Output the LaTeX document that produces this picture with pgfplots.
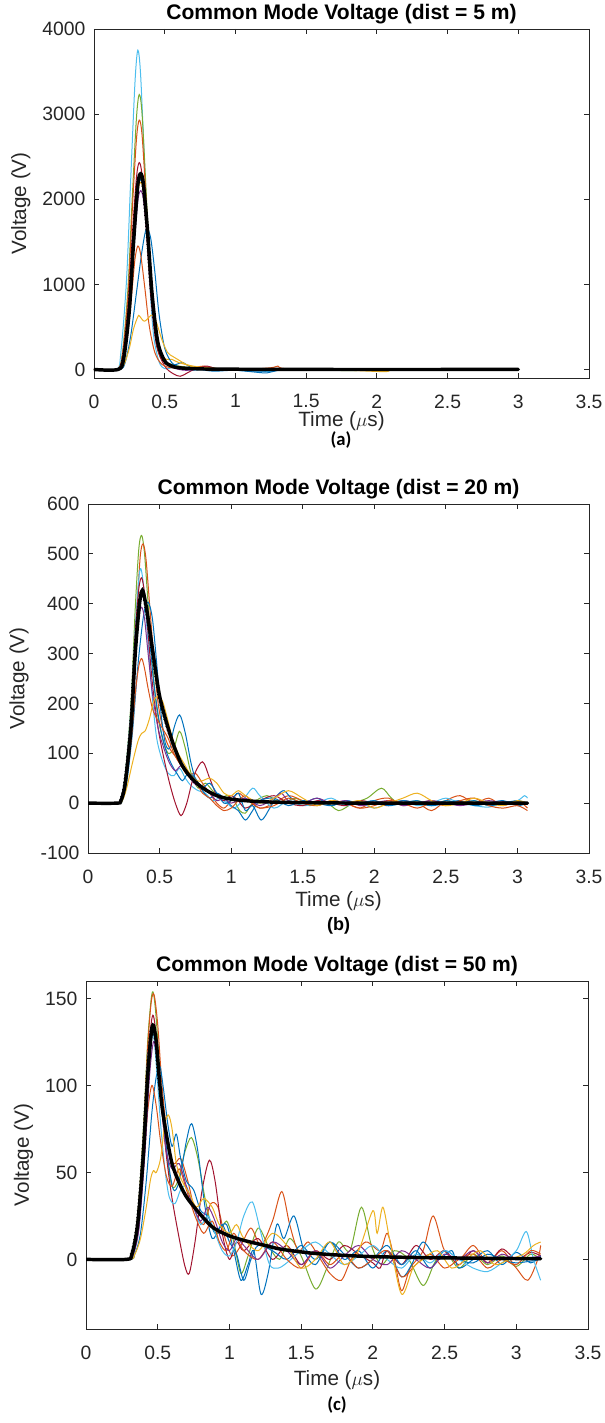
\documentclass[border=0pt]{standalone}
\usepackage{pgfplots}
\pgfplotsset{compat=1.18}
\usepackage{fontspec}
\setmainfont{Liberation Sans}
\newfontfamily\calib{Carlito}
\definecolor{mblue}{HTML}{0072BD}
\definecolor{morange}{HTML}{D95319}
\definecolor{myellow}{HTML}{EDB120}
\definecolor{mpurple}{HTML}{7E2F8E}
\definecolor{mgreen}{HTML}{77AC30}
\definecolor{mlblue}{HTML}{4DBEEE}
\definecolor{mred}{HTML}{A2142F}
\definecolor{axgray}{HTML}{262626}
\pgfplotsset{panel/.style={
  scale only axis, xmin=0, xmax=3.5,
  xtick={0,0.5,1,1.5,2,2.5,3,3.5},
  tick align=inside, major tick length=4pt,
  axis line style={axgray, line width=0.6pt},
  tick style={axgray, line width=0.6pt},
  every tick label/.append style={font=\fontsize{14.5}{15}\selectfont, text=axgray},
  xticklabel shift=9pt, yticklabel shift=3pt,
  scaled ticks=false,
  /pgf/number format/assume math mode=true,
  /pgf/number format/set thousands separator={},
  xlabel={Time ($\mu$s)}, ylabel={Voltage (V)},
  label style={font=\fontsize{15.5}{16}\selectfont, text=axgray},
  ylabel shift=2pt,
  title style={font=\fontsize{15.8}{16}\selectfont\bfseries, yshift=-6pt},
  every axis plot/.append style={line width=0.75pt, smooth, tension=0.5},
}}
\begin{document}
\begin{tikzpicture}
\useasboundingbox (0,0) rectangle (453pt,1067.25pt);
% ---------------- panel (a) ----------------
\begin{axis}[panel, at={(70.5pt,783.75pt)}, anchor=south west,
  width=371.25pt, height=261.75pt, ymin=-100, ymax=4000,
  ytick={0,1000,2000,3000,4000},
  xlabel style={at={(axis description cs:0.5,0)}, anchor=center, inner sep=0pt, yshift=-32.25pt},
  title={Common Mode Voltage (dist = 5 m)}]
\addplot[mlblue] coordinates {(0,0)(0.16,0)(0.19,200)(0.23,1050)(0.26,2250)(0.29,3380)(0.31,3750)(0.33,3450)(0.36,2300)(0.39,1150)(0.42,420)(0.46,90)(0.5,10)(0.55,20)(0.6,15)(0.7,-10)(0.8,5)(1.0,0)(1.2,-20)(1.25,-25)(1.3,0)(1.6,5)(2.0,0)(2.5,5)(3.0,0)};
\addplot[mgreen] coordinates {(0,0)(0.16,0)(0.2,180)(0.24,950)(0.27,2000)(0.3,2950)(0.32,3230)(0.34,3000)(0.37,2050)(0.4,1050)(0.44,330)(0.48,110)(0.55,60)(0.6,40)(0.7,20)(0.8,30)(0.9,5)(1.1,-10)(1.5,5)(1.8,-15)(2.0,0)(2.5,5)(3.0,0)};
\addplot[morange] coordinates {(0,0)(0.16,0)(0.2,160)(0.24,850)(0.27,1850)(0.3,2700)(0.32,2930)(0.34,2750)(0.37,1950)(0.4,1050)(0.44,350)(0.48,120)(0.55,40)(0.65,10)(0.78,40)(0.85,0)(1.0,-10)(1.25,20)(1.3,40)(1.35,10)(1.7,-5)(2.0,0)(2.5,-5)(3.0,0)};
\addplot[mred] coordinates {(0,0)(0.16,0)(0.2,140)(0.24,720)(0.27,1550)(0.3,2250)(0.32,2430)(0.34,2280)(0.37,1650)(0.4,900)(0.44,300)(0.5,40)(0.56,-50)(0.61,-80)(0.66,-40)(0.72,10)(0.8,40)(0.86,10)(0.95,-10)(1.2,10)(1.6,-5)(2.0,5)(3.0,0)};
\addplot[mblue] coordinates {(0,0)(0.17,0)(0.21,130)(0.25,700)(0.28,1500)(0.31,2120)(0.33,2230)(0.35,2100)(0.38,1600)(0.41,900)(0.45,330)(0.5,110)(0.55,50)(0.6,70)(0.63,80)(0.68,30)(0.75,0)(0.85,-20)(1.0,-10)(1.2,-40)(1.25,-30)(1.4,5)(2.0,0)(3.0,0)};
\addplot[myellow] coordinates {(0,0)(0.17,0)(0.21,120)(0.25,680)(0.28,1450)(0.31,2080)(0.33,2200)(0.35,2080)(0.38,1550)(0.41,880)(0.45,320)(0.5,130)(0.55,120)(0.6,80)(0.7,40)(0.8,20)(1.0,0)(1.5,10)(2.05,-25)(2.1,10)(2.5,0)(3.0,0)};
\addplot[mpurple] coordinates {(0,0)(0.17,0)(0.21,110)(0.25,630)(0.28,1380)(0.31,1980)(0.33,2100)(0.35,1990)(0.38,1500)(0.41,850)(0.45,300)(0.5,80)(0.56,20)(0.65,-10)(0.8,10)(1.0,0)(1.5,-5)(2.0,5)(3.0,0)};
\addplot[mblue] coordinates {(0,0)(0.18,0)(0.22,80)(0.26,400)(0.3,900)(0.34,1400)(0.37,1650)(0.4,1550)(0.43,1150)(0.46,650)(0.5,250)(0.55,80)(0.6,30)(0.7,10)(1.0,-10)(1.2,-20)(1.5,0)(3.0,0)};
\addplot[morange] coordinates {(0,0)(0.16,0)(0.2,90)(0.24,450)(0.27,950)(0.29,1300)(0.31,1450)(0.33,1350)(0.36,950)(0.39,520)(0.43,200)(0.48,60)(0.55,20)(0.7,10)(1.0,0)(3.0,0)};
\addplot[myellow] coordinates {(0,0)(0.17,0)(0.21,50)(0.25,250)(0.28,480)(0.31,620)(0.32,630)(0.35,570)(0.37,580)(0.41,640)(0.44,560)(0.48,350)(0.52,200)(0.56,150)(0.6,110)(0.65,60)(0.7,30)(0.8,10)(1.0,0)(3.0,0)};
\addplot[black, line width=2.6pt, line cap=round] coordinates {(0,0)(0.17,0)(0.21,130)(0.25,700)(0.28,1500)(0.31,2170)(0.33,2300)(0.35,2170)(0.38,1600)(0.41,900)(0.45,330)(0.5,100)(0.55,40)(0.6,20)(0.7,10)(0.8,5)(1.0,3)(1.5,0)(3.0,0)};
\addplot[black, dotted, line width=1pt] coordinates {(0,0)(0.16,0)(0.2,130)(0.24,700)(0.27,1500)(0.3,2150)(0.32,2280)(0.34,2160)(0.37,1600)(0.4,900)(0.44,330)(0.49,100)(0.55,30)(0.7,8)(1.0,2)(3.0,0)};
\end{axis}
\node[font=\calib\bfseries\fontsize{14}{15}\selectfont, inner sep=0pt] at (255.75pt,737.25pt) {(a)};
% ---------------- panel (b) ----------------
\begin{axis}[panel, at={(66pt,427.5pt)}, anchor=south west,
  width=375.75pt, height=261.75pt, ymin=-100, ymax=600,
  ytick={-100,0,100,200,300,400,500,600},
  xlabel style={at={(axis description cs:0.5,0)}, anchor=center, inner sep=0pt, yshift=-36pt},
  title={Common Mode Voltage (dist = 20 m)}]
\addplot[mgreen] coordinates {(0,0)(0.2,0)(0.23,8)(0.26,55)(0.3,200)(0.33,390)(0.355,510)(0.375,537)(0.395,500)(0.42,400)(0.45,280)(0.48,190)(0.52,130)(0.56,100)(0.6,110)(0.64,144)(0.68,110)(0.72,60)(0.77,30)(0.82,40)(0.87,25)(0.92,10)(0.97,15)(1.02,5)(1.06,-15)(1.1,-20)(1.15,0)(1.25,15)(1.35,0)(1.45,10)(1.55,-5)(1.65,5)(1.75,-15)(1.85,0)(1.95,10)(2.05,30)(2.12,10)(2.2,-5)(2.3,5)(2.4,-5)(2.5,5)(2.6,-3)(2.7,5)(2.8,-5)(2.9,0)(3.0,3)(3.07,0)};
\addplot[morange] coordinates {(0,0)(0.2,0)(0.23,7)(0.26,50)(0.3,180)(0.34,380)(0.365,495)(0.385,520)(0.405,490)(0.43,400)(0.46,290)(0.49,200)(0.53,140)(0.57,110)(0.62,90)(0.66,70)(0.7,55)(0.75,60)(0.8,40)(0.85,20)(0.9,0)(0.95,-10)(1.0,5)(1.05,20)(1.1,10)(1.2,-10)(1.3,0)(1.4,15)(1.5,5)(1.6,-5)(1.7,5)(1.8,0)(1.9,-10)(2.0,5)(2.1,10)(2.2,-5)(2.3,0)(2.4,-15)(2.5,5)(2.6,15)(2.7,0)(2.8,10)(2.9,-5)(3.0,5)(3.07,-10)};
\addplot[mlblue] coordinates {(0,0)(0.2,0)(0.23,8)(0.26,55)(0.3,190)(0.33,350)(0.355,450)(0.37,470)(0.39,430)(0.42,320)(0.45,210)(0.48,130)(0.52,85)(0.56,60)(0.6,55)(0.64,70)(0.68,50)(0.72,35)(0.77,25)(0.82,20)(0.87,5)(0.92,10)(0.97,0)(1.02,-10)(1.08,5)(1.15,30)(1.2,15)(1.3,-10)(1.4,5)(1.5,-5)(1.6,0)(1.7,10)(1.8,-5)(1.9,0)(2.0,-10)(2.1,0)(2.2,5)(2.3,-5)(2.4,0)(2.5,10)(2.6,0)(2.7,-5)(2.8,-8)(2.9,0)(3.0,5)(3.05,15)(3.07,10)};
\addplot[mred] coordinates {(0,0)(0.2,0)(0.23,7)(0.26,50)(0.3,180)(0.33,340)(0.355,430)(0.375,452)(0.395,420)(0.42,340)(0.45,240)(0.49,150)(0.53,90)(0.57,40)(0.61,0)(0.65,-25)(0.69,0)(0.74,55)(0.8,83)(0.85,50)(0.9,15)(0.95,5)(1.0,15)(1.05,5)(1.1,-10)(1.2,5)(1.3,15)(1.4,0)(1.5,-5)(1.6,5)(1.7,0)(1.8,-5)(1.9,5)(2.0,0)(2.1,-5)(2.2,5)(2.3,0)(2.4,5)(2.5,-3)(2.6,3)(2.7,0)(2.8,-3)(2.9,3)(3.07,0)};
\addplot[mblue] coordinates {(0,0)(0.21,0)(0.24,5)(0.27,40)(0.31,140)(0.35,280)(0.39,380)(0.42,403)(0.45,370)(0.48,280)(0.51,180)(0.54,120)(0.57,110)(0.6,150)(0.64,177)(0.68,140)(0.72,80)(0.76,40)(0.8,30)(0.85,40)(0.9,20)(0.95,0)(1.0,5)(1.05,20)(1.1,-15)(1.15,-5)(1.21,-34)(1.27,-10)(1.32,15)(1.37,25)(1.42,10)(1.5,0)(1.6,10)(1.7,-5)(1.8,5)(1.9,-3)(2.0,5)(2.1,-5)(2.2,0)(2.3,5)(2.4,-5)(2.5,0)(2.6,5)(2.7,-5)(2.8,0)(2.9,5)(3.0,-5)(3.07,0)};
\addplot[mblue] coordinates {(0,0)(0.2,0)(0.23,7)(0.26,45)(0.3,165)(0.33,320)(0.36,405)(0.38,420)(0.4,400)(0.43,330)(0.46,240)(0.5,160)(0.54,110)(0.58,80)(0.62,60)(0.66,45)(0.7,60)(0.75,50)(0.8,25)(0.85,10)(0.9,20)(0.95,10)(1.0,-5)(1.05,-15)(1.1,-34)(1.15,-15)(1.2,5)(1.3,10)(1.4,-5)(1.5,5)(1.6,0)(1.7,-5)(1.8,5)(1.9,0)(2.0,5)(2.1,-5)(2.2,5)(2.3,0)(2.4,-5)(2.5,5)(2.6,0)(2.7,5)(2.8,-5)(2.9,0)(3.0,5)(3.07,0)};
\addplot[mpurple] coordinates {(0,0)(0.2,0)(0.23,6)(0.26,45)(0.3,160)(0.33,300)(0.355,375)(0.375,393)(0.395,370)(0.42,300)(0.45,220)(0.49,150)(0.53,110)(0.57,80)(0.61,65)(0.65,75)(0.69,60)(0.74,40)(0.8,30)(0.85,20)(0.9,5)(0.95,10)(1.0,0)(1.1,10)(1.2,-5)(1.3,10)(1.35,20)(1.4,5)(1.5,0)(1.6,10)(1.7,0)(1.8,5)(1.9,-5)(2.0,0)(2.1,5)(2.2,-5)(2.3,0)(2.4,5)(2.5,0)(2.6,-5)(2.7,0)(2.8,5)(2.9,0)(3.0,-3)(3.07,0)};
\addplot[morange] coordinates {(0,0)(0.2,0)(0.23,5)(0.26,35)(0.3,120)(0.33,220)(0.355,275)(0.375,290)(0.395,270)(0.42,230)(0.45,190)(0.48,170)(0.52,150)(0.56,130)(0.6,100)(0.64,80)(0.68,70)(0.72,55)(0.76,40)(0.8,20)(0.85,10)(0.9,-5)(0.95,-15)(1.0,-10)(1.05,5)(1.1,15)(1.15,0)(1.2,-10)(1.3,-5)(1.4,10)(1.5,0)(1.6,-5)(1.7,5)(1.8,0)(1.9,-10)(2.0,-5)(2.1,5)(2.2,0)(2.3,-10)(2.4,0)(2.5,-5)(2.6,5)(2.7,10)(2.8,-5)(2.9,-10)(3.0,-5)(3.07,-15)};
\addplot[myellow] coordinates {(0,0)(0.21,0)(0.24,5)(0.27,30)(0.31,80)(0.35,125)(0.375,140)(0.4,145)(0.43,170)(0.46,205)(0.49,215)(0.52,205)(0.55,175)(0.59,130)(0.63,100)(0.67,80)(0.71,60)(0.76,45)(0.8,45)(0.85,50)(0.9,40)(0.95,20)(1.0,15)(1.05,25)(1.1,15)(1.2,0)(1.3,10)(1.4,25)(1.5,10)(1.6,-5)(1.7,5)(1.8,0)(1.9,5)(2.0,-10)(2.1,0)(2.2,10)(2.3,20)(2.4,5)(2.5,-5)(2.6,0)(2.7,10)(2.8,0)(2.9,-5)(3.0,5)(3.07,0)};
\addplot[black, line width=2.6pt, line cap=round] coordinates {(0,0)(0.2,0)(0.23,5)(0.26,40)(0.3,150)(0.33,300)(0.36,400)(0.38,427)(0.4,405)(0.42,370)(0.46,290)(0.5,215)(0.55,160)(0.6,115)(0.65,80)(0.7,58)(0.76,40)(0.82,27)(0.9,15)(1.0,8)(1.2,3)(1.5,1)(2.0,0)(3.07,0)};
\addplot[black, dotted, line width=1pt] coordinates {(0,0)(0.19,0)(0.22,5)(0.25,40)(0.29,150)(0.32,300)(0.35,400)(0.37,425)(0.39,405)(0.41,370)(0.45,290)(0.49,215)(0.54,160)(0.6,110)(0.7,55)(0.8,28)(1.0,8)(1.5,1)(3.07,0)};
\end{axis}
\node[font=\bfseries\fontsize{13.5}{14}\selectfont, inner sep=0pt] at (253.9pt,372.75pt) {(b)};
% ---------------- panel (c) ----------------
\begin{axis}[panel, at={(64.5pt,70.5pt)}, anchor=south west,
  width=376.5pt, height=261pt, ymin=-40, ymax=160,
  ytick={0,50,100,150},
  xlabel style={at={(axis description cs:0.5,0)}, anchor=center, inner sep=0pt, yshift=-38.25pt},
  title={Common Mode Voltage (dist = 50 m)}]
\addplot[mgreen] coordinates {(0,0)(0.28,0)(0.32,4)(0.36,25)(0.40,75)(0.43,125)(0.455,150)(0.47,153)(0.49,138)(0.52,100)(0.56,62)(0.6,42)(0.64,45)(0.69,62)(0.735,70)(0.78,58)(0.83,35)(0.88,18)(0.93,15)(0.98,22)(1.03,10)(1.08,-8)(1.13,2)(1.2,18)(1.27,8)(1.35,0)(1.42,12)(1.5,2)(1.6,-17)(1.68,-5)(1.76,10)(1.84,5)(1.92,30)(1.99,8)(2.06,-3)(2.15,5)(2.25,0)(2.35,-15)(2.43,-2)(2.5,5)(2.6,-5)(2.7,3)(2.8,-3)(2.9,2)(3.0,-4)(3.1,3)(3.17,0)};
\addplot[morange] coordinates {(0,0)(0.28,0)(0.32,4)(0.36,24)(0.40,72)(0.43,122)(0.455,148)(0.475,152)(0.5,135)(0.53,100)(0.57,68)(0.61,55)(0.66,58)(0.71,45)(0.76,28)(0.82,20)(0.87,32)(0.92,30)(0.97,12)(1.02,2)(1.08,8)(1.15,18)(1.22,8)(1.3,22)(1.365,39)(1.42,20)(1.48,5)(1.55,10)(1.62,2)(1.7,-8)(1.78,-12)(1.85,0)(1.95,10)(2.05,5)(2.1,15)(2.15,0)(2.2,-18)(2.26,-5)(2.35,5)(2.42,25)(2.5,5)(2.6,0)(2.7,8)(2.8,-2)(2.9,5)(3.0,-5)(3.08,-12)(3.15,0)(3.17,8)};
\addplot[mred] coordinates {(0,0)(0.28,0)(0.32,3)(0.36,22)(0.40,68)(0.43,115)(0.455,136)(0.47,140)(0.49,128)(0.52,95)(0.56,60)(0.6,35)(0.65,12)(0.69,-4)(0.72,-8)(0.76,10)(0.81,40)(0.86,57)(0.9,45)(0.95,15)(1.0,0)(1.05,10)(1.1,5)(1.2,12)(1.3,0)(1.4,8)(1.5,-3)(1.6,5)(1.7,0)(1.8,8)(1.9,3)(2.0,-2)(2.05,-5)(2.1,5)(2.2,-3)(2.3,8)(2.4,0)(2.5,5)(2.6,-3)(2.7,5)(2.8,-2)(2.9,6)(3.0,0)(3.1,4)(3.17,2)};
\addplot[mblue] coordinates {(0,0)(0.29,0)(0.33,3)(0.37,20)(0.41,65)(0.44,110)(0.46,128)(0.475,132)(0.5,118)(0.53,88)(0.57,58)(0.61,40)(0.65,45)(0.7,68)(0.737,78)(0.78,62)(0.83,30)(0.88,12)(0.93,18)(0.98,20)(1.03,5)(1.08,-12)(1.13,-3)(1.17,5)(1.22,-20)(1.27,-8)(1.33,20)(1.38,12)(1.45,25)(1.52,5)(1.6,-3)(1.7,10)(1.8,0)(1.9,5)(2.0,-5)(2.1,5)(2.2,-10)(2.27,-3)(2.35,10)(2.45,0)(2.55,5)(2.6,-5)(2.7,0)(2.8,5)(2.9,-3)(3.0,4)(3.1,-2)(3.17,2)};
\addplot[mblue] coordinates {(0,0)(0.3,0)(0.34,3)(0.38,15)(0.42,45)(0.46,85)(0.49,105)(0.515,111)(0.54,98)(0.57,78)(0.6,65)(0.63,72)(0.66,58)(0.7,45)(0.75,40)(0.8,28)(0.85,25)(0.9,15)(0.95,20)(1.0,10)(1.05,3)(1.1,-12)(1.15,0)(1.2,8)(1.3,5)(1.4,0)(1.5,8)(1.6,0)(1.7,10)(1.8,3)(1.9,-5)(2.0,0)(2.1,8)(2.2,-3)(2.3,5)(2.4,-5)(2.5,5)(2.6,0)(2.7,-2)(2.8,3)(2.9,0)(3.0,-2)(3.17,0)};
\addplot[mlblue] coordinates {(0,0)(0.28,0)(0.32,3)(0.36,22)(0.4,70)(0.43,115)(0.455,128)(0.47,130)(0.49,112)(0.52,78)(0.55,52)(0.58,36)(0.62,32)(0.66,40)(0.7,42)(0.75,30)(0.8,20)(0.85,25)(0.9,15)(0.95,5)(1.0,2)(1.05,10)(1.1,25)(1.16,33)(1.22,15)(1.28,-3)(1.34,-5)(1.4,-2)(1.5,5)(1.6,10)(1.7,3)(1.8,-3)(1.9,2)(2.0,8)(2.1,0)(2.2,-5)(2.3,3)(2.4,-2)(2.5,5)(2.6,0)(2.7,-5)(2.8,-7)(2.9,-2)(3.0,5)(3.07,16)(3.12,0)(3.17,-12)};
\addplot[morange] coordinates {(0,0)(0.28,0)(0.32,3)(0.36,18)(0.4,52)(0.43,85)(0.46,100)(0.49,88)(0.52,68)(0.56,48)(0.6,42)(0.65,52)(0.7,40)(0.76,25)(0.82,15)(0.88,22)(0.93,10)(0.98,5)(1.03,15)(1.1,5)(1.2,0)(1.3,10)(1.4,0)(1.5,-5)(1.6,5)(1.7,-3)(1.8,3)(1.9,-5)(2.0,0)(2.1,5)(2.2,-10)(2.3,-3)(2.4,3)(2.5,-5)(2.6,0)(2.7,3)(2.8,-5)(2.9,0)(3.0,-3)(3.1,5)(3.17,3)};
\addplot[mpurple] coordinates {(0,0)(0.29,0)(0.33,3)(0.37,18)(0.41,60)(0.44,102)(0.46,120)(0.475,125)(0.5,112)(0.53,85)(0.56,62)(0.6,52)(0.65,55)(0.7,42)(0.75,30)(0.8,22)(0.85,30)(0.9,22)(0.95,10)(1.0,5)(1.05,12)(1.1,8)(1.2,0)(1.3,10)(1.4,5)(1.5,-3)(1.6,5)(1.7,-5)(1.8,2)(1.9,8)(2.0,0)(2.1,-3)(2.2,5)(2.3,0)(2.4,-5)(2.5,3)(2.6,0)(2.7,5)(2.8,-2)(2.9,3)(3.0,0)(3.17,2)};
\addplot[myellow] coordinates {(0,0)(0.3,0)(0.34,3)(0.38,12)(0.42,30)(0.45,46)(0.47,51)(0.49,50)(0.52,58)(0.55,78)(0.575,83)(0.6,75)(0.63,55)(0.67,45)(0.72,38)(0.77,30)(0.82,35)(0.88,30)(0.93,20)(1.0,15)(1.05,20)(1.1,12)(1.2,5)(1.3,15)(1.4,8)(1.5,-5)(1.6,0)(1.7,10)(1.8,-3)(1.9,5)(2.0,28)(2.03,15)(2.07,30)(2.12,10)(2.2,-20)(2.28,-5)(2.35,0)(2.45,5)(2.55,-5)(2.65,0)(2.75,5)(2.85,-3)(2.95,0)(3.05,3)(3.12,8)(3.17,10)};
\addplot[black, line width=2.6pt, line cap=round] coordinates {(0,0)(0.28,0)(0.32,3)(0.36,20)(0.40,60)(0.43,105)(0.455,130)(0.47,134.5)(0.49,125)(0.51,105)(0.53,88)(0.56,72)(0.6,55)(0.65,44)(0.7,36)(0.77,28.5)(0.85,21)(0.9,17.5)(1.0,13.5)(1.12,10.5)(1.25,8)(1.35,6)(1.5,4.3)(1.6,3.4)(1.8,2.3)(2.0,1.6)(2.3,1.1)(2.6,0.8)(3.0,0.5)(3.17,0.4)};
\addplot[black, dotted, line width=1pt] coordinates {(0,0)(0.27,0)(0.31,3)(0.35,20)(0.39,60)(0.42,105)(0.445,130)(0.46,134)(0.48,125)(0.5,105)(0.53,85)(0.6,55)(0.7,36)(0.85,21)(1.0,13)(1.25,8)(1.6,3.4)(2.0,1.6)(3.17,0.4)};
\end{axis}
\node[font=\calib\bfseries\fontsize{14}{15}\selectfont, inner sep=0pt] at (252.75pt,13.5pt) {(c)};
\end{tikzpicture}
\end{document}
